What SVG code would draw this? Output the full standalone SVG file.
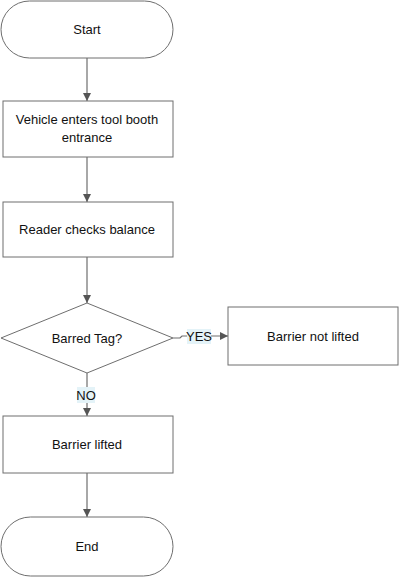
<svg xmlns="http://www.w3.org/2000/svg" width="400" height="578" viewBox="0 0 400 578">
<style>
.n{fill:#fff;stroke:#6e6e6e;stroke-width:1}
.t{font-family:"Liberation Sans",Arial,sans-serif;font-size:13px;fill:#111;text-anchor:middle}
.e{fill:none;stroke:#6e6e6e;stroke-width:1.2}
.lb{fill:#e4f3f8}
</style>
<defs>
<marker id="a" viewBox="0 0 10 10" refX="10" refY="5" markerWidth="8" markerHeight="8" markerUnits="userSpaceOnUse" orient="auto">
<path d="M0,0 L10,5 L0,10 z" fill="#555"/>
</marker>
</defs>
<rect width="400" height="578" fill="#fff"/>
<g id="connectors">
<line class="e" x1="87" y1="58" x2="87" y2="101" marker-end="url(#a)"/>
<line class="e" x1="87" y1="157" x2="87" y2="202" marker-end="url(#a)"/>
<line class="e" x1="87" y1="257" x2="87" y2="303" marker-end="url(#a)"/>
<path class="e" d="M173,338 L180,338 L182,336 L228,336" marker-end="url(#a)"/>
<line class="e" x1="87" y1="373" x2="87" y2="416" marker-end="url(#a)"/>
<line class="e" x1="87" y1="473" x2="87" y2="517" marker-end="url(#a)"/>
<rect class="lb" x="187" y="329" width="24" height="15"/>
<text class="t" x="199" y="341">YES</text>
<rect class="lb" x="77" y="387" width="18" height="16"/>
<text class="t" x="86" y="400">NO</text>
</g>
<g id="start">
<rect class="n" x="1" y="1" width="172" height="57" rx="28.5"/>
<text class="t" x="87" y="34">Start</text>
</g>
<g id="vehicle">
<rect class="n" x="3" y="101" width="170" height="56"/>
<text class="t" x="87" y="124">Vehicle enters tool booth</text>
<text class="t" x="87" y="142">entrance</text>
</g>
<g id="reader">
<rect class="n" x="3" y="202" width="170" height="55"/>
<text class="t" x="87" y="234">Reader checks balance</text>
</g>
<g id="barred">
<polygon class="n" points="87,303 173,338 87,373 1,338"/>
<text class="t" x="87" y="343">Barred Tag?</text>
</g>
<g id="notlifted">
<rect class="n" x="228" y="307" width="170" height="58"/>
<text class="t" x="313" y="341">Barrier not lifted</text>
</g>
<g id="lifted">
<rect class="n" x="3" y="416" width="170" height="57"/>
<text class="t" x="87" y="449">Barrier lifted</text>
</g>
<g id="end">
<rect class="n" x="1" y="517" width="172" height="59" rx="29.5"/>
<text class="t" x="87" y="551">End</text>
</g>
</svg>
